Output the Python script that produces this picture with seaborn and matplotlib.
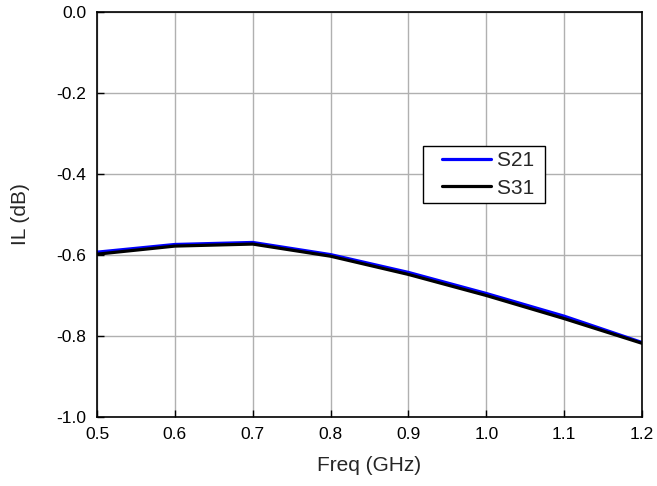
import pandas as pd
import numpy as np
import matplotlib
matplotlib.use("Agg")
import matplotlib.pyplot as plt
import seaborn as sns
from matplotlib.legend_handler import HandlerLine2D

freq = [0.5, 0.6, 0.7, 0.8, 0.9, 1.0, 1.1, 1.2]
s21 = [-0.593, -0.574, -0.569, -0.599, -0.643, -0.695, -0.751, -0.816]
s31 = [-0.598, -0.578, -0.573, -0.603, -0.648, -0.700, -0.757, -0.818]
series_names = ["S21", "S31"]
colores = {"S21": "#0000ff", "S31": "#000000"}
xticks = [0.5, 0.6, 0.7, 0.8, 0.9, 1.0, 1.1, 1.2]
xtick_labels = ["0.5", "0.6", "0.7", "0.8", "0.9", "1.0", "1.1", "1.2"]
yticks = [-1.0, -0.8, -0.6, -0.4, -0.2, 0.0]
ytick_labels = ["-1.0", "-0.8", "-0.6", "-0.4", "-0.2", "0.0"]

df = pd.DataFrame({
    "Freq": freq * 2,
    "IL": s21 + s31,
    "Serie": ["S21"] * len(freq) + ["S31"] * len(freq),
})

sns.set_style("white")
plt.rcParams["font.family"] = ["Liberation Sans", "DejaVu Sans"]

fig = plt.figure(figsize=(6.57, 4.86), dpi=100)
ax = fig.add_axes([97 / 657, 1 - 417 / 486, 545 / 657, 405 / 486])

sns.lineplot(data=df, x="Freq", y="IL", hue="Serie", hue_order=series_names,
             palette=colores, linewidth=2.3, ax=ax, sort=False)

ax.set_xlim(0.5, 1.2)
ax.set_ylim(-1.0, 0.0)
ax.set_xticks(xticks)
ax.set_xticklabels(xtick_labels)
ax.set_yticks(yticks)
ax.set_yticklabels(ytick_labels)
ax.grid(True, color="#b0b0b0", linewidth=1)
ax.tick_params(direction="in", length=5, width=1, colors="black", labelsize=12.5,
               pad=7.5, bottom=True, left=True)
for s in ax.spines.values():
    s.set_color("black")
    s.set_linewidth(1.2)

ax.set_xlabel("Freq (GHz)", fontsize=15, labelpad=10)
ax.set_ylabel("IL (dB)", fontsize=15, labelpad=19)

# leyenda: linea desplazada a la derecha para dejar margen a la izquierda
handles, labels = ax.get_legend_handles_labels()
leg = ax.legend(handles, [l + " " for l in labels],
                loc="upper left", bbox_to_anchor=(0.598, 0.669), fontsize=15,
                frameon=True, fancybox=False, handlelength=3.0, borderpad=0.25,
                labelspacing=0.4, handletextpad=0.3, borderaxespad=0,
                handler_map={h: HandlerLine2D(xpad=0.66) for h in handles})
leg.get_frame().set_edgecolor("black")
leg.get_frame().set_linewidth(1)
leg.get_frame().set_alpha(1)

fig.savefig("out.png", dpi=100)
